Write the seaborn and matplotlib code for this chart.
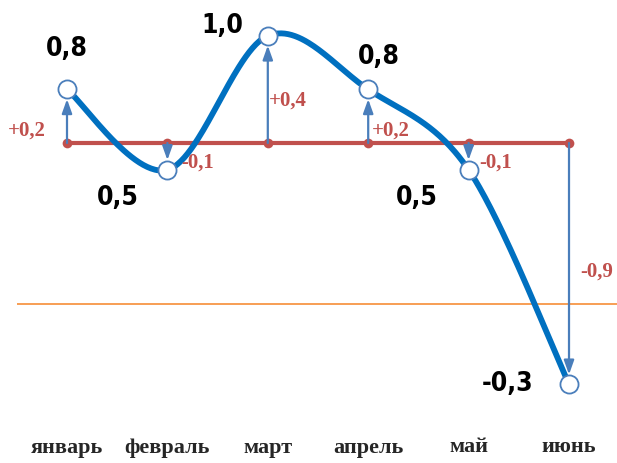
import numpy as np
import pandas as pd
import matplotlib
matplotlib.use("Agg")
import matplotlib.pyplot as plt
import seaborn as sns

# ---- data ----
months = ["январь", "февраль", "март", "апрель", "май", "июнь"]
values = [0.8, 0.5, 1.0, 0.8, 0.5, -0.3]
baseline = 0.6
diff_labels = ["+0,2", "-0,1", "+0,4", "+0,2", "-0,1", "-0,9"]
value_labels = ["0,8", "0,5", "1,0", "0,8", "0,5", "-0,3"]

# ---- layout (offsets in points) ----
value_offsets = [(0, 29), (-36, -20), (-33, 7), (8, 23), (-37, -20), (-44, 0)]
diff_offsets = [(-15, -29.5), (10, 5), (1, -47), (3, -29.5), (8, 5), (8, 81)]
diff_ha = ["right", "left", "left", "left", "left", "left"]

sns.set_theme(style="white")
plt.rcParams["font.family"] = ["Liberation Serif", "DejaVu Sans"]

fig = plt.figure(figsize=(6.17, 4.63), dpi=100)
ax = fig.add_axes([17 / 617, 38 / 463, 600 / 617, 425 / 463])

x = np.arange(len(months))
y = np.array(values, dtype=float)

# Catmull-Rom smoothing (like Excel smoothed line)
P = np.concatenate([[y[0]], y, [y[-1]]])
X = np.concatenate([[x[0]], x, [x[-1]]]).astype(float)
xs, ys = [], []
for i in range(1, len(P) - 2):
    t = np.linspace(0, 1, 60)
    for arr, out in ((X, xs), (P, ys)):
        p0, p1, p2, p3 = arr[i - 1], arr[i], arr[i + 1], arr[i + 2]
        c1 = p1 + (p2 - p0) / 6
        c2 = p2 - (p3 - p1) / 6
        out.extend((1 - t) ** 3 * p1 + 3 * (1 - t) ** 2 * t * c1 + 3 * (1 - t) * t ** 2 * c2 + t ** 3 * p2)
curve = pd.DataFrame({"x": xs, "y": ys})

# orange zero line
ax.axhline(0, color="#f79646", lw=1.3, zorder=1)

# red baseline with dots
base_df = pd.DataFrame({"x": x, "y": [baseline] * len(x)})
sns.lineplot(data=base_df, x="x", y="y", ax=ax, color="#c0504d", lw=3, zorder=2,
             marker="o", markersize=7, markeredgewidth=0, sort=False)

# arrows
for xi, vi in zip(x, y):
    ax.annotate("", xy=(xi, vi), xytext=(xi, baseline),
                arrowprops=dict(arrowstyle="-|>,head_length=0.7,head_width=0.25",
                                color="#4a7ebb", lw=1.6, shrinkA=0, shrinkB=7),
                zorder=3)

# smoothed curve
sns.lineplot(data=curve, x="x", y="y", ax=ax, color="#0070c0", lw=4.2, sort=False, zorder=4)

# markers
pts = pd.DataFrame({"x": x, "y": y})
sns.scatterplot(data=pts, x="x", y="y", ax=ax, s=170, color="white",
                edgecolor="#4a7ebb", linewidth=1.3, zorder=5)

# value labels
for xi, vi, lab, off in zip(x, y, value_labels, value_offsets):
    ax.annotate(lab, (xi, vi), xytext=off, textcoords="offset points",
                ha="center", va="center", fontsize=19, fontweight="bold",
                fontstretch="condensed", family=["DejaVu Sans"], color="black", zorder=6)

# difference labels
for xi, vi, lab, off, ha in zip(x, y, diff_labels, diff_offsets, diff_ha):
    ax.annotate(lab, (xi, vi), xytext=off, textcoords="offset points",
                ha=ha, va="center", fontsize=15, fontweight="bold",
                color="#c0504d", zorder=6)

ax.set_xlim(-0.498, 5.478)
ax.set_ylim(-0.452, 1.1336)
ax.set_xticks(x)
ax.set_xticklabels(months, fontsize=16, fontweight="bold")
ax.set_yticks([])
ax.tick_params(axis="x", length=0, pad=9)
ax.set_xlabel("")
ax.set_ylabel("")
for s in ax.spines.values():
    s.set_visible(False)
ax.patch.set_alpha(0)

fig.savefig("out.png", dpi=100)
